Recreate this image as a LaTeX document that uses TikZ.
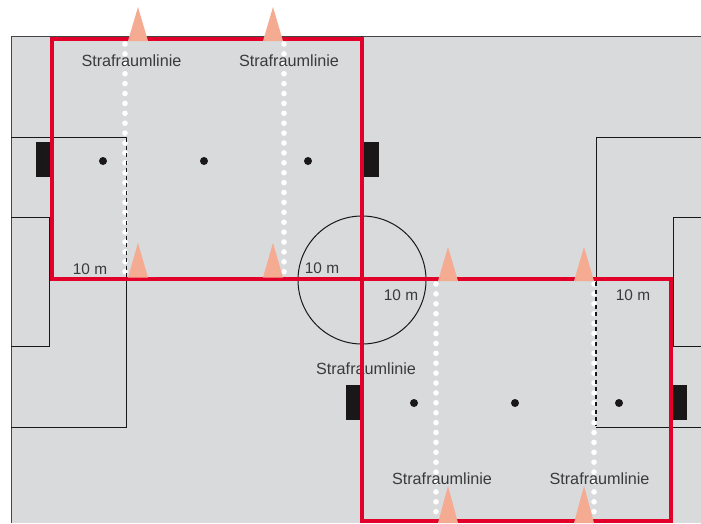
\documentclass[tikz,border=0pt]{standalone}
\usepackage{fontspec}
\setmainfont{Liberation Sans}
\definecolor{pitch}{HTML}{D8DADC}
\definecolor{redline}{HTML}{E2002B}
\definecolor{salmon}{HTML}{F4AB92}
\definecolor{ink}{HTML}{1A1718}
\definecolor{labelgray}{HTML}{3A3A3C}
\tikzset{
  fieldline/.style={draw=ink,line width=1pt},
  zone/.style={draw=redline,line width=4.2pt,line join=miter},
  whitedots/.style={draw=white,line width=5.6pt,line cap=round,dash pattern=on 0pt off 9.9pt},
  blackdash/.style={draw=ink,line width=1.3pt,dash pattern=on 4pt off 3.5pt},
  goalbox/.style={fill=ink},
  spot/.style={fill=ink},
  cone/.style={fill=salmon},
  lbl/.style={text=labelgray,font=\fontsize{16.2}{19}\selectfont,inner sep=0pt},
  dist/.style={text=labelgray,font=\fontsize{15.4}{18}\selectfont,inner sep=0pt}
}
\begin{document}
\begin{tikzpicture}[x=1pt,y=-1pt]
\useasboundingbox (0,0) rectangle (701,523);
% pitch
\fill[pitch] (11,36) rectangle (701,523);
\draw[draw=ink!80,line width=0.8pt] (11,523) -- (11,36) -- (701,36);
% field markings
\draw[fieldline] (11,137) -- (126,137) -- (126,427) -- (11,427);
\draw[fieldline] (11,217) -- (49,217) -- (49,346) -- (11,346);
\draw[fieldline] (701,137) -- (596,137) -- (596,427) -- (701,427);
\draw[fieldline] (701,217) -- (673,217) -- (673,346) -- (701,346);
\draw[fieldline] (362,280) circle (64);
\draw[fieldline] (361,36) -- (361,523);
% goals
\fill[goalbox] (36,142) rectangle (51,177);
\fill[goalbox] (363,142) rectangle (378.5,177);
\fill[goalbox] (346,385) rectangle (361,420);
\fill[goalbox] (672,385) rectangle (687,420);
% spots
\foreach \p in {(103,161),(204,161),(308,161),(414,403),(515,403),(619,403)}
  \fill[spot] \p circle (4);
% dotted penalty lines
\draw[pitch,line width=2pt] (126,137.5) -- (126,278);
\draw[pitch,line width=2pt] (596,282) -- (596,426.5);
\draw[whitedots] (125,44) -- (125,278);
\draw[whitedots] (284,44) -- (284,278);
\draw[whitedots] (436,284) -- (436,521);
\draw[whitedots] (594,284) -- (594,521);
\draw[blackdash] (126.5,138) -- (126.5,278);
\draw[blackdash] (596,282) -- (596,426);
% label below the zones
\node[lbl] (s3) at (366,369) {Strafraumlinie};
% red zones
\draw[zone] (52,39) rectangle (362,279);
\draw[zone] (362,279) rectangle (671,521);
% cones
\foreach \x/\t/\b in {138/7/41,273/7/41,138/243/277.5,273/243/277.5,448/247/281,584/247/281,448/486/523,584/486/523}
  \fill[cone] (\x-10,\b) -- (\x,\t) -- (\x+10,\b) -- cycle;
% labels
\node[lbl] (s1) at (131.5,60.5) {Strafraumlinie};
\node[lbl] (s2) at (289,60.5) {Strafraumlinie};
\node[lbl] (s4) at (442,478.5) {Strafraumlinie};
\node[lbl] (s5) at (599.5,478.5) {Strafraumlinie};
\node[dist] (m1) at (90,269) {10 m};
\node[dist] (m2) at (322,268.5) {10 m};
\node[dist] (m3) at (401,295) {10 m};
\node[dist] (m4) at (633,295) {10 m};
\end{tikzpicture}
\end{document}
